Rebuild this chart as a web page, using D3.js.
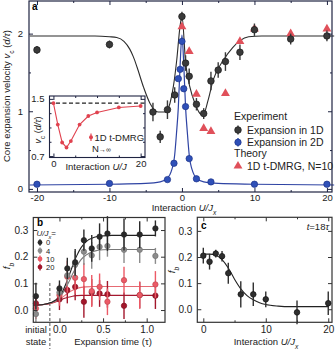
<!DOCTYPE html>
<html>
<head>
<meta charset="utf-8">
<script src="https://cdn.jsdelivr.net/npm/d3@7"></script>
<style>
  body { margin: 0; background: #fff; }
  svg { display: block; font-family: "Liberation Sans", Arial, sans-serif; }
</style>
</head>
<body>
<div id="chart"></div>
<script>
// ---------- panel a: core expansion velocity vs interaction
var u1D   = [-20, -10, -4, -3, -2, -1, 0, 0.5, 1, 2, 3, 4, 5, 6, 8, 10, 15, 20];
var v1D   = [1.79, 1.86, 0.99, 0.67, 1.02, 1.21, 2.22, 1.62, 1.45, 1.09, 0.97, 1.39, 1.53, 1.64, 1.76, 2.05, 1.93, 1.97];
var err1D = [0.05, 0.05, 0.12, 0.08, 0.12, 0.1, 0.06, 0.1, 0.1, 0.08, 0.07, 0.12, 0.1, 0.12, 0.1, 0.08, 0.07, 0.07];

var u2D = [-20, -10, -2, -1.1, -0.5, -0.25, 0, 0.25, 0.5, 1, 2, 4, 10, 20];
var v2D = [0.06, 0.07, 0.12, 0.33, 1.42, 1.54, 1.90, 1.29, 1.06, 0.39, 0.13, 0.09, 0.06, 0.06];

var uDMRG = [0, 1, 2, 3, 4, 6, 8, 10, 15, 20];
var vDMRG = [2.09, 1.77, 1.22, 0.78, 0.74, 1.23, 1.90, 2.06, 2.00, 2.06];

// fit lines
var fit1DU = [-21, -12, -10, -9, -8, -7.2, -6.7, -6.2, -5.3, -4.4, -3.3, -2.3, -1.66, -1.2, -0.73, -0.28, 0, 0.5, 1.1, 1.8, 2.5, 2.9, 3.6, 4.3, 5.8, 7, 8, 9.2, 11, 21];
var fit1DV = [1.97, 1.97, 1.96, 1.95, 1.90, 1.80, 1.70, 1.57, 1.31, 1.10, 0.99, 0.99, 1.10, 1.31, 1.65, 2.08, 2.23, 1.63, 1.31, 1.10, 0.97, 0.95, 1.14, 1.40, 1.67, 1.82, 1.91, 1.96, 1.97, 1.97];
var fit2DU = [-21, -10, -5, -3, -2, -1.5, -1, -0.75, -0.5, -0.25, 0, 0.25, 0.5, 0.75, 1, 1.5, 2, 3, 5, 10, 21];
var fit2DV = [0.05, 0.06, 0.07, 0.09, 0.14, 0.22, 0.44, 0.72, 1.05, 1.6, 1.98, 1.6, 1.05, 0.72, 0.44, 0.22, 0.14, 0.09, 0.07, 0.06, 0.05];

// inset: 1D t-DMRG, N -> infinity
var insetU = [0, 1, 2, 3, 4, 6, 8, 10, 15, 20];
var insetV = [1.44, 1.14, 0.89, 0.82, 0.91, 1.14, 1.26, 1.31, 1.38, 1.40];
var insetLimit = 1.44;

// ---------- panel b: f_b vs expansion time
var bTime = [-0.27, 0, 0.09, 0.18, 0.28, 0.37, 0.46, 0.55, 0.74, 0.92, 1.1];
var bLabels = ["0", "4", "10", "20"];
var bF0  = [0.052, 0.081, 0.156, 0.179, 0.262, 0.231, 0.275, 0.287, 0.283, 0.283, 0.306];
var bF4  = [-0.015, 0.066, 0.13, 0.171, 0.219, 0.205, 0.237, 0.240, 0.226, 0.226, 0.203];
var bF10 = [0.006, 0.056, 0.125, 0.121, 0.116, 0.071, 0.087, 0.031, 0.112, 0.056, 0.096];
var bF20 = [0.025, 0.040, 0.075, 0.087, 0.031, 0.066, 0.062, 0.059, 0.016, 0.056, 0.054];
var bE0  = [0.05, 0.03, 0.04, 0.05, 0.04, 0.05, 0.05, 0.065, 0.06, 0.05, 0.03];
var bE4  = [0.03, 0.03, 0.04, 0.05, 0.05, 0.05, 0.05, 0.04, 0.05, 0.05, 0.03];
var bE10 = [0.04, 0.04, 0.06, 0.06, 0.06, 0.06, 0.05, 0.05, 0.05, 0.05, 0.05];
var bE20 = [0.03, 0.04, 0.05, 0.05, 0.06, 0.05, 0.05, 0.05, 0.05, 0.05, 0.05];

var bFitT   = [-0.3, -0.2, -0.1, 0, 0.05, 0.1, 0.15, 0.2, 0.25, 0.3, 0.4, 0.5, 0.6, 0.8, 1.1];
var bFit0   = [0.018, 0.02, 0.028, 0.05, 0.08, 0.12, 0.165, 0.205, 0.235, 0.255, 0.273, 0.278, 0.28, 0.28, 0.28];
var bFit4   = [0.018, 0.02, 0.027, 0.046, 0.07, 0.1, 0.135, 0.165, 0.19, 0.205, 0.221, 0.226, 0.227, 0.227, 0.227];
var bFit10  = [0.018, 0.02, 0.026, 0.04, 0.052, 0.064, 0.074, 0.081, 0.085, 0.087, 0.088, 0.088, 0.088, 0.088, 0.088];
var bFit20  = [0.018, 0.02, 0.025, 0.036, 0.043, 0.048, 0.052, 0.054, 0.055, 0.055, 0.055, 0.055, 0.055, 0.055, 0.055];

// ---------- panel c: f_b at t = 18 tau vs interaction
var cU   = [0, 1, 2, 3, 4, 6, 8, 10, 15, 20];
var cF   = [0.205, 0.182, 0.213, 0.203, 0.138, 0.057, 0.057, 0.038, -0.012, 0.023];
var cErr = [0.03, 0.03, 0.015, 0.02, 0.04, 0.05, 0.045, 0.03, 0.045, 0.045];
var cFitU = [0, 1, 2, 3, 4, 5, 6, 7, 8, 9, 10, 12, 14, 20];
var cFitV = [0.211, 0.211, 0.207, 0.19, 0.158, 0.115, 0.078, 0.052, 0.036, 0.025, 0.018, 0.012, 0.01, 0.01];

function zip(xs, ys, es) {
  return xs.map(function(d, i) { return { x: d, y: ys[i], e: es ? es[i] : 0 }; });
}

var svg = d3.select("#chart").append("svg")
  .attr("width", 335)
  .attr("height", 349);

// frame with inward ticks on all four sides
function addAxes(g, x, y, o) {
  var xl = x.range()[0], xr = x.range()[1], yb = y.range()[0], yt = y.range()[1];
  var col = o.color;
  var fs = o.fontSize || 10;

  function style(sel) {
    sel.attr("font-family", null).attr("font-size", fs);
    sel.selectAll("line").attr("stroke", col);
    sel.selectAll("text").attr("fill", "#222");
    sel.select(".domain").remove();
  }

  g.append("g").attr("transform", "translate(0," + yb + ")")
    .call(d3.axisBottom(x).tickValues(o.xTicks).tickSize(-4).tickPadding(o.xPad || 4).tickFormat(o.xFmt))
    .call(style);
  g.append("g").attr("transform", "translate(0," + yt + ")")
    .call(d3.axisTop(x).tickValues(o.xTicks).tickSize(-4).tickFormat(""))
    .call(style);
  g.append("g").attr("transform", "translate(" + xl + ",0)")
    .call(d3.axisLeft(y).tickValues(o.yTicks).tickSize(-4).tickPadding(o.yPad || 4).tickFormat(o.yFmt))
    .call(style);
  g.append("g").attr("transform", "translate(" + xr + ",0)")
    .call(d3.axisRight(y).tickValues(o.yTicks).tickSize(-4).tickFormat(""))
    .call(style);

  if (o.xMinor) {
    g.append("g").attr("transform", "translate(0," + yb + ")")
      .call(d3.axisBottom(x).tickValues(o.xMinor).tickSize(-2).tickFormat("")).call(style);
    g.append("g").attr("transform", "translate(0," + yt + ")")
      .call(d3.axisTop(x).tickValues(o.xMinor).tickSize(-2).tickFormat("")).call(style);
  }
  if (o.yMinor) {
    g.append("g").attr("transform", "translate(" + xl + ",0)")
      .call(d3.axisLeft(y).tickValues(o.yMinor).tickSize(-2).tickFormat("")).call(style);
    g.append("g").attr("transform", "translate(" + xr + ",0)")
      .call(d3.axisRight(y).tickValues(o.yMinor).tickSize(-2).tickFormat("")).call(style);
  }

  g.append("rect")
    .attr("x", xl).attr("y", yt)
    .attr("width", xr - xl).attr("height", yb - yt)
    .attr("fill", "none")
    .attr("stroke", col)
    .attr("stroke-width", o.frameWidth || 1.2);
}

function errorDots(g, data, x, y, fill, stroke, r, barColor) {
  g.append("g").selectAll("line")
    .data(data.filter(function(d) { return d.e > 0; }))
    .join("line")
    .attr("x1", d => x(d.x)).attr("x2", d => x(d.x))
    .attr("y1", d => y(d.y - d.e)).attr("y2", d => y(d.y + d.e))
    .attr("stroke", barColor || fill)
    .attr("stroke-width", 1.4);
  g.append("g").selectAll("circle")
    .data(data)
    .join("circle")
    .attr("cx", d => x(d.x))
    .attr("cy", d => y(d.y))
    .attr("r", r)
    .attr("fill", fill)
    .attr("stroke", stroke)
    .attr("stroke-width", 0.7);
}

// subscript / italic helper for labels
function richText(t, parts, size) {
  parts.forEach(function(p) {
    var s = t.append("tspan").text(p.t);
    if (p.i) s.attr("font-style", "italic");
    if (p.sub) s.attr("font-size", size * 0.7).attr("baseline-shift", "sub");
  });
}

// =================== panel a ===================
var ga = svg.append("g");
var xa = d3.scaleLinear().domain([-21.1, 20.7]).range([29, 332]);
var ya = d3.scaleLinear().domain([-0.04, 2.42]).range([192, 1]);

var fitLine = d3.line().x(d => xa(d.x)).y(d => ya(d.y)).curve(d3.curveMonotoneX);

ga.append("path")
  .datum(zip(fit2DU, fit2DV))
  .attr("fill", "none")
  .attr("stroke", "#2e43a3")
  .attr("stroke-width", 1.2)
  .attr("d", fitLine);

ga.append("path")
  .datum(zip(fit1DU, fit1DV))
  .attr("fill", "none")
  .attr("stroke", "#2b2b2b")
  .attr("stroke-width", 1.1)
  .attr("d", fitLine);

// theory triangles
var tri = d3.symbol(d3.symbolTriangle).size(34);
ga.append("g").selectAll("path")
  .data(zip(uDMRG, vDMRG))
  .join("path")
  .attr("transform", d => "translate(" + xa(d.x) + "," + ya(d.y) + ")")
  .attr("d", tri)
  .attr("fill", "#e0505a");

errorDots(ga, zip(u2D, v2D), xa, ya, "#2f50b8", "#1d3288", 3.2);
errorDots(ga, zip(u1D, v1D, err1D), xa, ya, "#3a3a3a", "#1a1a1a", 3.3, "#3a3a3a");

addAxes(ga, xa, ya, {
  color: "#1f2442", fontSize: 9.5,
  xTicks: [-20, -10, 0, 10, 20], xMinor: [-15, -5, 5, 15],
  yTicks: [0, 1, 2], yMinor: [0.5, 1.5],
  xFmt: d => d, yFmt: d => d,
  xPad: 2, yPad: 6
});

ga.append("text").attr("x", 32).attr("y", 10)
  .attr("font-size", 10).attr("font-weight", "bold").text("a");

var tya = ga.append("text")
  .attr("transform", "translate(10,96) rotate(-90)")
  .attr("text-anchor", "middle")
  .attr("font-size", 9.5)
  .attr("fill", "#222");
richText(tya, [{ t: "Core expansion velocity " }, { t: "v", i: true }, { t: "c", sub: true }, { t: " (" }, { t: "d/τ", i: true }, { t: ")" }], 9.5);

var txa = ga.append("text")
  .attr("x", 184).attr("y", 211)
  .attr("text-anchor", "middle")
  .attr("font-size", 9.5)
  .attr("fill", "#222");
richText(txa, [{ t: "Interaction " }, { t: "U/J", i: true }, { t: "x", i: true, sub: true }], 9.5);

// legend
var lg = ga.append("g").attr("font-size", 10.5).attr("fill", "#222");
lg.append("text").attr("x", 234).attr("y", 119.5).text("Experiment");
lg.append("text").attr("x", 234).attr("y", 157).text("Theory");
lg.append("text").attr("x", 247).attr("y", 133.5).text("Expansion in 1D");
lg.append("text").attr("x", 247).attr("y", 146).text("Expansion in 2D");
lg.append("text").attr("x", 247).attr("y", 169.5).text("1D t-DMRG, N=10");
lg.append("line").attr("x1", 238).attr("x2", 238).attr("y1", 125.5).attr("y2", 134.5)
  .attr("stroke", "#3a3a3a").attr("stroke-width", 1.4);
lg.append("circle").attr("cx", 238).attr("cy", 130).attr("r", 3.3).attr("fill", "#3a3a3a").attr("stroke", "#1a1a1a").attr("stroke-width", 0.7);
lg.append("line").attr("x1", 238).attr("x2", 238).attr("y1", 138).attr("y2", 146.5)
  .attr("stroke", "#2f50b8").attr("stroke-width", 1.4);
lg.append("circle").attr("cx", 238).attr("cy", 142.3).attr("r", 3.2).attr("fill", "#2f50b8").attr("stroke", "#1d3288").attr("stroke-width", 0.7);
lg.append("path").attr("transform", "translate(238,166)").attr("d", tri).attr("fill", "#e0505a");

// ---------- inset
var gi = ga.append("g");
var xi = d3.scaleLinear().domain([-0.9, 21]).range([49.5, 145]);
var yi = d3.scaleLinear().domain([0.68, 1.54]).range([157.5, 96]);

gi.append("rect").attr("x", 49.5).attr("y", 96).attr("width", 95.5).attr("height", 61.5).attr("fill", "#fff");

gi.append("line")
  .attr("x1", xi.range()[0]).attr("x2", xi.range()[1])
  .attr("y1", yi(insetLimit)).attr("y2", yi(insetLimit))
  .attr("stroke", "#222").attr("stroke-width", 1.1)
  .attr("stroke-dasharray", "4,2.5");

gi.append("path")
  .datum(zip(insetU, insetV))
  .attr("fill", "none")
  .attr("stroke", "#e0424f")
  .attr("stroke-width", 1.1)
  .attr("d", d3.line().x(d => xi(d.x)).y(d => yi(d.y)));

gi.append("g").selectAll("circle")
  .data(zip(insetU, insetV))
  .join("circle")
  .attr("cx", d => xi(d.x)).attr("cy", d => yi(d.y))
  .attr("r", 1.9).attr("fill", "#e0424f");

addAxes(gi, xi, yi, {
  color: "#1f2442", fontSize: 9.5,
  xTicks: [0, 20], xMinor: [5, 10, 15],
  yTicks: [0.7, 1.5], yMinor: [0.9, 1.1, 1.3],
  xFmt: d => d, yFmt: d => d,
  xPad: 3, yPad: 5, frameWidth: 1.1
});

var tix = gi.append("text").attr("x", 96).attr("y", 169.5)
  .attr("text-anchor", "middle").attr("font-size", 9.5).attr("fill", "#222");
richText(tix, [{ t: "Interaction " }, { t: "U/J", i: true }], 9.5);

var tiy = gi.append("text")
  .attr("transform", "translate(40.5,130) rotate(-90)")
  .attr("text-anchor", "middle").attr("font-size", 9).attr("fill", "#222");
richText(tiy, [{ t: "v", i: true }, { t: "c", sub: true }, { t: " (" }, { t: "d/τ", i: true }, { t: ")" }], 9);

gi.append("line").attr("x1", 91).attr("x2", 91).attr("y1", 133.5).attr("y2", 141)
  .attr("stroke", "#e0424f").attr("stroke-width", 1.2);
gi.append("circle").attr("cx", 91).attr("cy", 137.3).attr("r", 2).attr("fill", "#e0424f");
gi.append("text").attr("x", 94.5).attr("y", 140.8).attr("font-size", 9.5).attr("fill", "#222").text("1D t-DMRG");
var tn = gi.append("text").attr("x", 92).attr("y", 151.5).attr("font-size", 9.5).attr("fill", "#222");
tn.append("tspan").text("N");
tn.append("tspan").attr("font-size", 7).text("→∞");

// =================== panel b ===================
var gb = svg.append("g");
var xb = d3.scaleLinear().domain([-0.3, 1.21]).range([33.3, 165]);
var yb = d3.scaleLinear().domain([-0.046, 0.347]).range([322.3, 217.5]);

var bSeries = [
  { label: bLabels[0], f: bF0,  e: bE0,  fit: bFit0,  color: "#2a2a2a", line: "#222" },
  { label: bLabels[1], f: bF4,  e: bE4,  fit: bFit4,  color: "#8c8c8c", line: "#777" },
  { label: bLabels[2], f: bF10, e: bE10, fit: bFit10, color: "#ec5a66", line: "#e66a73" },
  { label: bLabels[3], f: bF20, e: bE20, fit: bFit20, color: "#a3172c", line: "#a5192f" }
];

var bLine = d3.line().x(d => xb(d.x)).y(d => yb(d.y)).curve(d3.curveMonotoneX);

// dashed line separating the initial state
gb.append("line")
  .attr("x1", xb(-0.11)).attr("x2", xb(-0.11))
  .attr("y1", 283).attr("y2", 349)
  .attr("stroke", "#555").attr("stroke-width", 1)
  .attr("stroke-dasharray", "3,2");

bSeries.slice().reverse().forEach(function(s) {
  gb.append("path")
    .datum(zip(bFitT, s.fit).filter(d => d.x <= bTime[bTime.length - 1]))
    .attr("fill", "none")
    .attr("stroke", s.line)
    .attr("stroke-width", 1.1)
    .attr("d", bLine);
});
bSeries.slice().reverse().forEach(function(s) {
  errorDots(gb, zip(bTime, s.f, s.e), xb, yb, s.color, d3.color(s.color).darker(0.6), 2.7);
});

addAxes(gb, xb, yb, {
  color: "#333",
  xTicks: [0, 0.5, 1], xMinor: [0.25, 0.75],
  yTicks: [0, 0.1, 0.2, 0.3],
  xFmt: d3.format(".1f"), yFmt: d3.format(".1f"),
  xPad: 4, yPad: 5
});

gb.append("text").attr("x", 37).attr("y", 226).attr("font-size", 10).attr("font-weight", "bold").text("b");

var tbl = gb.append("text").attr("x", 36.5).attr("y", 235.5).attr("font-size", 8).attr("fill", "#222");
richText(tbl, [{ t: "U/J", i: true }, { t: "x", i: true, sub: true }, { t: "=" }], 8);

bSeries.forEach(function(s, i) {
  var cy = 242.5 + i * 8.2;
  gb.append("line").attr("x1", 40).attr("x2", 40).attr("y1", cy - 3.3).attr("y2", cy + 3.3)
    .attr("stroke", s.color).attr("stroke-width", 1.3);
  gb.append("circle").attr("cx", 40).attr("cy", cy).attr("r", 2.4).attr("fill", s.color);
  gb.append("text").attr("x", 46).attr("y", cy + 2.8).attr("font-size", 7.6).attr("fill", "#222").text(s.label);
});

var tfb = gb.append("text").attr("transform", "translate(10,266) rotate(-90)")
  .attr("text-anchor", "middle").attr("font-size", 9.5).attr("fill", "#222");
richText(tfb, [{ t: "f", i: true }, { t: "b", i: true, sub: true }], 9.5);

gb.append("text").attr("x", 36).attr("y", 332.5).attr("text-anchor", "middle").attr("font-size", 9.5).attr("fill", "#222").text("initial");
gb.append("text").attr("x", 36).attr("y", 345).attr("text-anchor", "middle").attr("font-size", 9.5).attr("fill", "#222").text("state");
gb.append("text").attr("x", 113).attr("y", 345).attr("text-anchor", "middle").attr("font-size", 9.5).attr("fill", "#222").text("Expansion time (τ)");

// =================== panel c ===================
var gc = svg.append("g");
var xc = d3.scaleLinear().domain([-0.96, 20.6]).range([197.3, 332]);
var yc = d3.scaleLinear().domain([-0.05, 0.352]).range([322.3, 217.3]);

gc.append("path")
  .datum(zip(cFitU, cFitV))
  .attr("fill", "none")
  .attr("stroke", "#222")
  .attr("stroke-width", 1.1)
  .attr("d", d3.line().x(d => xc(d.x)).y(d => yc(d.y)).curve(d3.curveMonotoneX));

errorDots(gc, zip(cU, cF, cErr), xc, yc, "#2f2f2f", "#111", 2.8);

addAxes(gc, xc, yc, {
  color: "#333",
  xTicks: [0, 10, 20], xMinor: [5, 15],
  yTicks: [0, 0.1, 0.2, 0.3],
  xFmt: d => d, yFmt: d3.format(".1f"),
  xPad: 4, yPad: 5
});

gc.append("text").attr("x", 201).attr("y", 229).attr("font-size", 10).attr("font-weight", "bold").text("c");
var t18 = gc.append("text").attr("x", 329).attr("y", 230).attr("text-anchor", "end").attr("font-size", 9.5).attr("fill", "#222");
richText(t18, [{ t: "t", i: true }, { t: "=18" }, { t: "τ", i: true }], 9.5);

var tfc = gc.append("text").attr("transform", "translate(175,270) rotate(-90)")
  .attr("text-anchor", "middle").attr("font-size", 9.5).attr("fill", "#222");
richText(tfc, [{ t: "f", i: true }, { t: "b", i: true, sub: true }], 9.5);

var txc = gc.append("text").attr("x", 266).attr("y", 344.5).attr("text-anchor", "middle").attr("font-size", 9.5).attr("fill", "#222");
richText(txc, [{ t: "Interaction " }, { t: "U/J", i: true }, { t: "x", i: true, sub: true }], 9.5);
</script>
</body>
</html>
